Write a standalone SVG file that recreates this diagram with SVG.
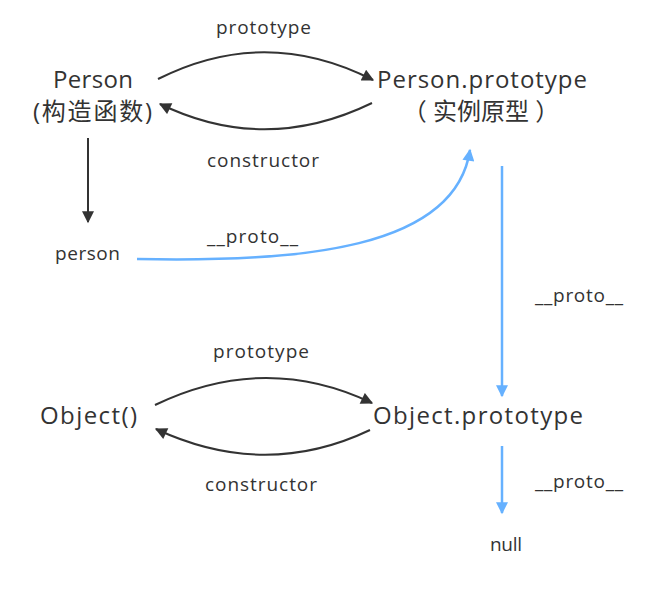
<svg xmlns="http://www.w3.org/2000/svg" width="654" height="601" viewBox="0 0 654 601">
<defs>
<marker id="ablk" viewBox="0 0 10 10" refX="9" refY="5" markerWidth="14" markerHeight="12" markerUnits="userSpaceOnUse" orient="auto"><path d="M0,0 L10,5 L0,10 z" fill="#333"/></marker>
<marker id="abl" viewBox="0 0 10 10" refX="9" refY="5" markerWidth="14" markerHeight="12" markerUnits="userSpaceOnUse" orient="auto"><path d="M0,0 L10,5 L0,10 z" fill="#66b1ff"/></marker>
</defs>
<style>
text{font-family:"Open Sans","Noto Sans","Noto Sans CJK SC",sans-serif;fill:#333;text-anchor:middle}
.n{font-size:24px}
.l{font-size:19px}
.k{fill:none;stroke:#333;stroke-width:2}
.b{fill:none;stroke:#66b1ff;stroke-width:2.5}
</style>
<rect width="654" height="601" fill="#fff"/>
<g id="connectors">
<path class="k" d="M158,79 Q265,25 373,80" marker-end="url(#ablk)"/>
<path class="k" d="M372,103 Q265,155 160,104" marker-end="url(#ablk)"/>
<path class="k" d="M88,138 L88,222" marker-end="url(#ablk)"/>
<path class="b" d="M137,259 C300,262 455,250 470,150" marker-end="url(#abl)"/>
<path class="b" d="M502,166 L502,396" marker-end="url(#abl)"/>
<path class="k" d="M155,405 Q265,352 372,403" marker-end="url(#ablk)"/>
<path class="k" d="M370,430 Q265,480 156,429" marker-end="url(#ablk)"/>
<path class="b" d="M502,446 L502,513" marker-end="url(#abl)"/>
<text class="l" x="263.5" y="34" textLength="95">prototype</text>
<text class="l" x="263" y="167" textLength="112">constructor</text>
<text class="l" x="252.5" y="243" textLength="91">__proto__</text>
<text class="l" x="579" y="302" textLength="88">__proto__</text>
<text class="l" x="261" y="358" textLength="96">prototype</text>
<text class="l" x="261" y="491" textLength="112">constructor</text>
<text class="l" x="579" y="488" textLength="88">__proto__</text>
</g>
<g id="person-ctor"><text class="n" x="93" y="88" textLength="80">Person</text><text class="n" x="92.5" y="120" textLength="119">(构造函数)</text></g>
<g id="person-proto"><text class="n" x="482" y="88" textLength="210">Person.prototype</text><text class="n" x="481" y="120">（ 实例原型 ）</text></g>
<g id="person"><text class="l" x="87.5" y="260" textLength="65">person</text></g>
<g id="object-ctor"><text class="n" x="88.5" y="424" textLength="97">Object()</text></g>
<g id="object-proto"><text class="n" x="478" y="424" textLength="210">Object.prototype</text></g>
<g id="null"><text class="l" x="506" y="551" textLength="32">null</text></g>
</svg>
